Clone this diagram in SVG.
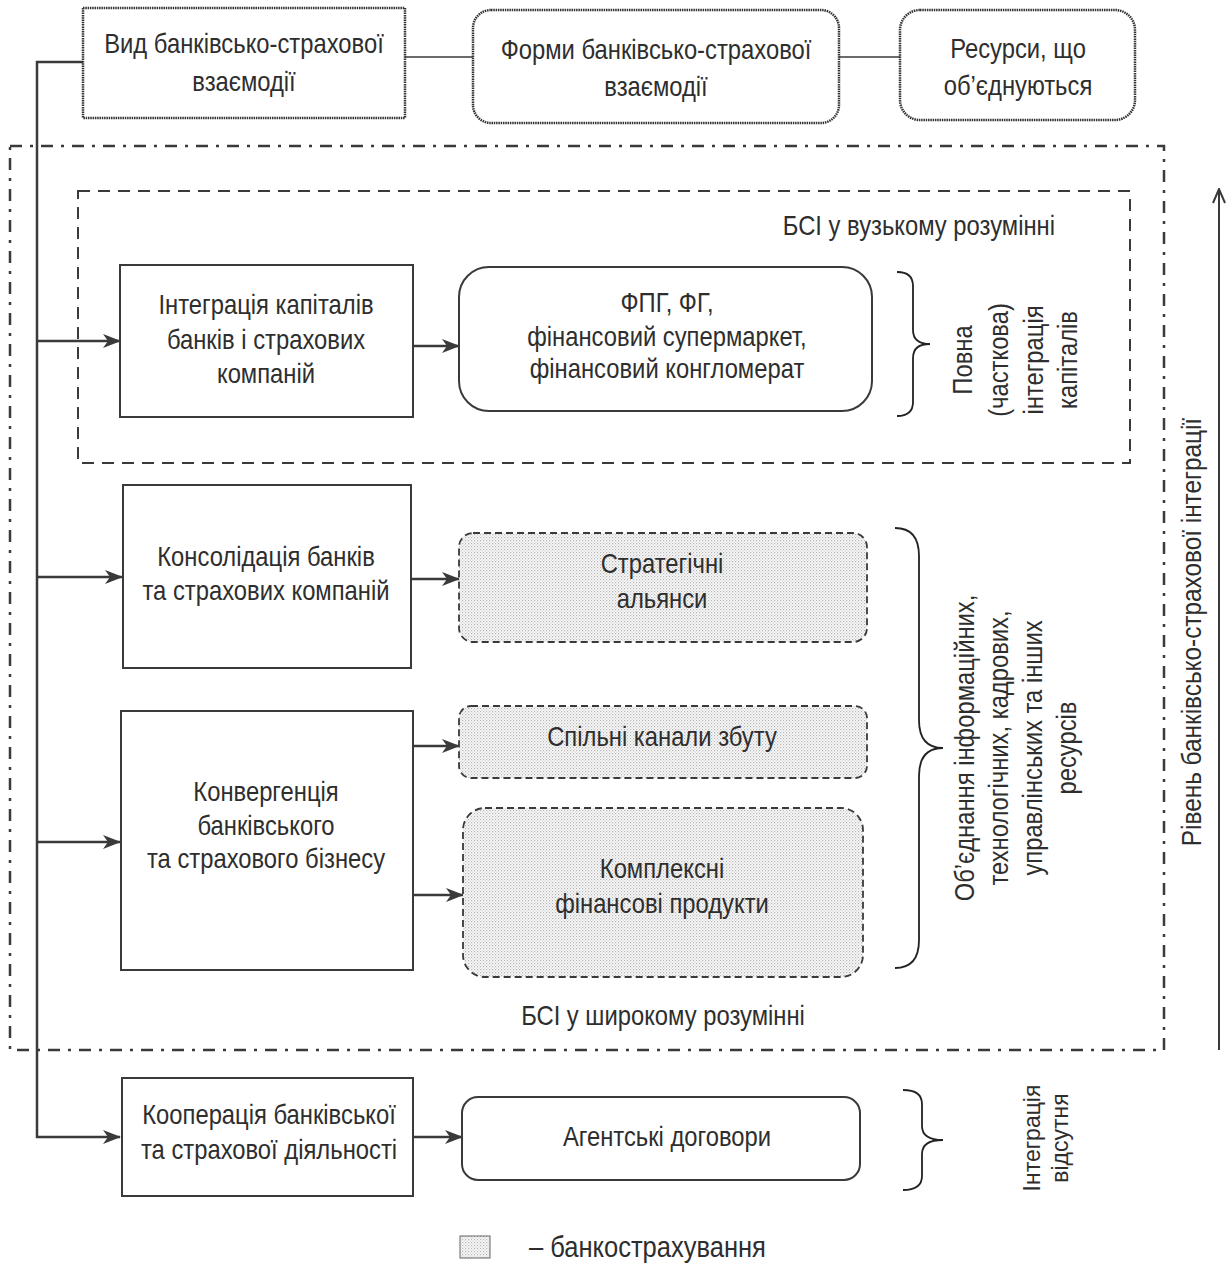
<svg xmlns="http://www.w3.org/2000/svg" width="1227" height="1272" viewBox="0 0 1227 1272">
<defs>
<style>
text{font-family:"Liberation Sans",Arial,sans-serif;font-size:28px;fill:#2e2e2e;}
.c{text-anchor:middle;}
.box{fill:#fff;stroke:#3a3a3a;stroke-width:2;}
.dotb{fill:#fff;stroke:#333;stroke-width:2.5;stroke-dasharray:1.5 0.8;}
.bank{fill:url(#stip);stroke:#3a3a3a;stroke-width:1.8;stroke-dasharray:7 4;}
.ln{fill:none;stroke:#3a3a3a;stroke-width:2.5;}
.thin{fill:none;stroke:#3a3a3a;stroke-width:1.5;}
.arr{fill:none;stroke:#3a3a3a;stroke-width:2.5;marker-end:url(#ah);}
.brace{fill:none;stroke:#222;stroke-width:1.8;}
</style>
<pattern id="stip" width="3" height="3" patternUnits="userSpaceOnUse">
<rect width="3" height="3" fill="#fbfbfb"/>
<rect x="0" y="0" width="1.2" height="1.2" fill="#b4b4b4"/>
<rect x="1.5" y="1.5" width="1.2" height="1.2" fill="#c8c8c8"/>
</pattern>
<marker id="ah" viewBox="0 0 18 14" refX="17" refY="7" markerWidth="18" markerHeight="14" markerUnits="userSpaceOnUse" orient="auto">
<path d="M0,0 L18,7 L0,14 L5,7 Z" fill="#3a3a3a"/>
</marker>
<marker id="open" viewBox="0 0 16 14" refX="15" refY="7" markerWidth="16" markerHeight="14" markerUnits="userSpaceOnUse" orient="auto">
<path d="M1,1 L15,7 L1,13" fill="none" stroke="#3a3a3a" stroke-width="2"/>
</marker>
</defs>
<rect width="1227" height="1272" fill="#fff"/>

<g id="regions">
<rect id="wide" x="10" y="146" width="1154" height="904" fill="none" stroke="#3a3a3a" stroke-width="2.5" stroke-dasharray="12 8 3 8"/>
<rect id="narrow" x="78" y="191" width="1052" height="272" fill="none" stroke="#3a3a3a" stroke-width="2" stroke-dasharray="12 8"/>
<text text-anchor="end" transform="translate(1055,235) scale(.85,1)">БСІ у вузькому розумінні</text>
<text class="c" transform="translate(663,1025) scale(.85,1)">БСІ у широкому розумінні</text>
</g>

<g id="connectors">
<line class="thin" x1="405" y1="57" x2="473" y2="57"/>
<line class="thin" x1="839" y1="57" x2="900" y2="57"/>
<polyline class="ln" points="83,62 37,62 37,1137 120,1137" marker-end="url(#ah)"/>
<line class="arr" x1="37" y1="341" x2="120" y2="341"/>
<line class="arr" x1="37" y1="577" x2="122" y2="577"/>
<line class="arr" x1="37" y1="842" x2="120" y2="842"/>
<line class="arr" x1="413" y1="346" x2="459" y2="346"/>
<line class="arr" x1="411" y1="579" x2="459" y2="579"/>
<line class="arr" x1="411" y1="746" x2="459" y2="746"/>
<line class="arr" x1="413" y1="895" x2="463" y2="895"/>
<line class="arr" x1="413" y1="1137" x2="462" y2="1137"/>
<line x1="1219" y1="1050" x2="1219" y2="189" fill="none" stroke="#3a3a3a" stroke-width="2" marker-end="url(#open)"/>
</g>

<g id="n-vid">
<rect class="dotb" x="83" y="8" width="322" height="110"/>
<text class="c" transform="translate(244,53) scale(.85,1)">Вид банківсько-страхової</text>
<text class="c" transform="translate(244,91) scale(.85,1)">взаємодії</text>
</g>
<g id="n-formy">
<rect class="dotb" x="473" y="10" width="366" height="113" rx="18"/>
<text class="c" transform="translate(656,59) scale(.85,1)">Форми банківсько-страхової</text>
<text class="c" transform="translate(656,96) scale(.85,1)">взаємодії</text>
</g>
<g id="n-resursy">
<rect class="dotb" x="900" y="10" width="235" height="110" rx="20"/>
<text class="c" transform="translate(1018,58) scale(.85,1)">Ресурси, що</text>
<text class="c" transform="translate(1018,95) scale(.85,1)">об’єднуються</text>
</g>

<g id="n-integr">
<rect class="box" x="120" y="265" width="293" height="152"/>
<text class="c" transform="translate(266,314) scale(.85,1)">Інтеграція капіталів</text>
<text class="c" transform="translate(266,349) scale(.85,1)">банків і страхових</text>
<text class="c" transform="translate(266,383) scale(.85,1)">компаній</text>
</g>
<g id="n-fpg">
<rect class="box" x="459" y="267" width="413" height="144" rx="30"/>
<text class="c" transform="translate(667,312) scale(.85,1)">ФПГ, ФГ,</text>
<text class="c" transform="translate(667,346) scale(.85,1)">фінансовий супермаркет,</text>
<text class="c" transform="translate(667,378) scale(.85,1)">фінансовий конгломерат</text>
</g>

<g id="n-konsol">
<rect class="box" x="123" y="485" width="288" height="183"/>
<text class="c" transform="translate(266,566) scale(.85,1)">Консолідація банків</text>
<text class="c" transform="translate(266,600) scale(.85,1)">та страхових компаній</text>
</g>
<g id="n-strat">
<rect class="bank" x="459" y="533" width="408" height="109" rx="14"/>
<text class="c" transform="translate(662,573) scale(.85,1)">Стратегічні</text>
<text class="c" transform="translate(662,608) scale(.85,1)">альянси</text>
</g>

<g id="n-konv">
<rect class="box" x="121" y="711" width="292" height="259"/>
<text class="c" transform="translate(266,801) scale(.85,1)">Конвергенція</text>
<text class="c" transform="translate(266,835) scale(.85,1)">банківського</text>
<text class="c" transform="translate(266,868) scale(.85,1)">та страхового бізнесу</text>
</g>
<g id="n-spilni">
<rect class="bank" x="459" y="706" width="408" height="72" rx="12"/>
<text class="c" transform="translate(662,746) scale(.85,1)">Спільні канали збуту</text>
</g>
<g id="n-kompl">
<rect class="bank" x="463" y="808" width="400" height="169" rx="22"/>
<text class="c" transform="translate(662,878) scale(.85,1)">Комплексні</text>
<text class="c" transform="translate(662,913) scale(.85,1)">фінансові продукти</text>
</g>

<g id="n-koop">
<rect class="box" x="122" y="1078" width="291" height="118"/>
<text class="c" transform="translate(269,1124) scale(.85,1)">Кооперація банківської</text>
<text class="c" transform="translate(269,1159) scale(.85,1)">та страхової діяльності</text>
</g>
<g id="n-agent">
<rect class="box" x="462" y="1097" width="398" height="83" rx="16"/>
<text class="c" transform="translate(667,1146) scale(.85,1)">Агентські договори</text>
</g>

<g id="braces">
<path class="brace" d="M897,272 Q913,272 913,286 L913,330 Q913,344 930,344 Q913,344 913,358 L913,402 Q913,416 897,416"/>
<path class="brace" d="M895,528 Q919,528 919,556 L919,720 Q919,748 943,748 Q919,748 919,776 L919,940 Q919,968 895,968"/>
<path class="brace" d="M903,1090 Q922,1090 922,1104 L922,1126 Q922,1140 943,1140 Q922,1140 922,1154 L922,1176 Q922,1190 903,1190"/>
</g>

<g id="side-labels">
<text class="c" transform="translate(972,360) rotate(-90) scale(.85,1)"><tspan x="0" dy="0">Повна</tspan><tspan x="0" dy="36">(часткова)</tspan><tspan x="0" dy="35">інтеграція</tspan><tspan x="0" dy="34">капіталів</tspan></text>
<text class="c" transform="translate(974,748) rotate(-90) scale(.85,1)"><tspan x="0" dy="0">Об’єднання інформаційних,</tspan><tspan x="0" dy="34">технологічних, кадрових,</tspan><tspan x="0" dy="34">управлінських та інших</tspan><tspan x="0" dy="34">ресурсів</tspan></text>
<text class="c" transform="translate(1040,1138) rotate(-90)" style="font-size:23px"><tspan x="0" dy="0">Інтеграція</tspan><tspan x="0" dy="28">відсутня</tspan></text>
<text class="c" transform="translate(1201,632) rotate(-90) scale(.87,1)">Рівень банківсько-страхової інтеграції</text>
</g>

<g id="legend">
<rect x="460" y="1236" width="30" height="22" fill="url(#stip)" stroke="#666" stroke-width="1"/>
<text transform="translate(529,1257) scale(.88,1)" style="font-size:29px">– банкострахування</text>
</g>
</svg>
